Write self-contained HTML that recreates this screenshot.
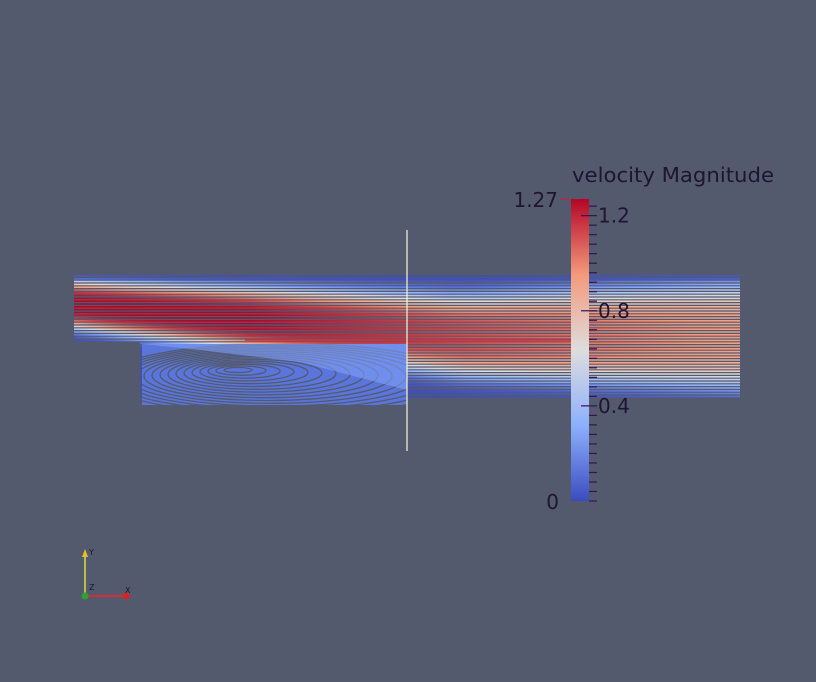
<!DOCTYPE html>
<html><head><meta charset="utf-8"><style>
html,body{margin:0;padding:0;background:#535a6e;}
svg{display:block;font-family:"DejaVu Sans","Liberation Sans",sans-serif;}
</style></head><body>
<svg id="chart" width="816" height="682" viewBox="0 0 816 682" xmlns="http://www.w3.org/2000/svg">
<rect x="0" y="0" width="816" height="682" fill="#535a6e"/>
<defs id="defs">
<linearGradient id="cbgrad" x1="0" y1="1" x2="0" y2="0">
<stop offset="0" stop-color="#3b4cc0"/><stop offset="0.25" stop-color="#8db0fe"/><stop offset="0.5" stop-color="#dddddd"/><stop offset="0.75" stop-color="#f49a7b"/><stop offset="1" stop-color="#b40426"/>
</linearGradient>
<clipPath id="eddyclip"><polygon points="142,344 407,344 407,405 142,405"/></clipPath>
</defs>
<g id="flow"></g>
<g id="eddy" clip-path="url(#eddyclip)"></g>
<line x1="245" y1="340" x2="571" y2="340" stroke="#ff2020" stroke-width="1.5"/>
<line x1="407" y1="230" x2="407" y2="451" stroke="#f6f6d8" stroke-width="1.2"/>
<g id="colorbar">
<text x="572" y="182" font-size="20" textLength="202" lengthAdjust="spacingAndGlyphs" fill="#1e1433">velocity Magnitude</text>
<rect x="571" y="199" width="18" height="302" fill="url(#cbgrad)"/>
<line x1="561" y1="199" x2="569" y2="199" stroke="#d01c2a" stroke-width="1.2"/>
<text x="558" y="207" font-size="20" text-anchor="end" fill="#1e1433">1.27</text>
<text x="559" y="509" font-size="20" text-anchor="end" fill="#1e1433">0</text>
<g id="ticks"></g>
</g>
<g>
<line x1="85" y1="596" x2="85" y2="556" stroke="#ffff40" stroke-width="1.2"/>
<polygon points="82,557 88,557 85,549" fill="#e8c020"/>
<line x1="85" y1="596" x2="127" y2="596" stroke="#ff2020" stroke-width="1.5"/>
<polygon points="124,592 124,600 132,596" fill="#e02020"/>
<circle cx="85" cy="596" r="3.5" fill="#30a030"/>
<text x="89" y="555" font-size="8" fill="#1e1433">Y</text>
<text x="125" y="593" font-size="8" fill="#1e1433">X</text>
<text x="89" y="590" font-size="8" fill="#1e1433">Z</text>
</g>
</svg>
<script>
const cbMin = 0;
const cbMax = 1.27;
const majorTicks = [0.4, 0.8, 1.2];
const tickStep = 0.04;
const NS = "http://www.w3.org/2000/svg";
const cbTop = 199, cbBot = 501;
function yScale(v){ return cbBot - (v - cbMin) / (cbMax - cbMin) * (cbBot - cbTop); }
function cmap(t){
  t = Math.max(0, Math.min(1, t));
  const s = [[0,[59,76,192]],[0.25,[141,176,254]],[0.5,[221,221,221]],[0.75,[244,154,123]],[1,[180,4,38]]];
  for (let i=0;i<s.length-1;i++){
    if (t<=s[i+1][0]){
      const f=(t-s[i][0])/(s[i+1][0]-s[i][0]);
      const c=s[i][1].map((a,k)=>Math.round(a+(s[i+1][1][k]-a)*f));
      return "rgb("+c.join(",")+")";
    }
  }
  return "rgb(180,4,38)";
}
const tg = document.getElementById("ticks");
for (let v = 0; v <= cbMax + 1e-9; v += tickStep){
  const y = yScale(v);
  const ln = document.createElementNS(NS,"line");
  
  
  const isMajor = majorTicks.some(m=>Math.abs(m-v)<1e-6);
  ln.setAttribute("x1", isMajor ? 581 : 589); ln.setAttribute("x2", 597);
  ln.setAttribute("y1", y); ln.setAttribute("y2", y);
  ln.setAttribute("stroke", "#3a0f5a"); ln.setAttribute("stroke-width", "1.2");
  tg.appendChild(ln);
}
majorTicks.forEach(m=>{
  const t = document.createElementNS(NS,"text");
  
  
  t.setAttribute("x", 598); t.setAttribute("y", yScale(m)+7);
  t.setAttribute("font-size", "20"); t.setAttribute("fill", "#1e1433");
  t.textContent = m.toFixed(1);
  tg.appendChild(t);
});
function vel(x,y){
  const yc = Math.min(305 + (x-74)*0.08, 336);
  const w = 24 + (x-74)*0.04;
  const vm = x<250 ? 1.27 : 1.27 - (x-250)/490*0.35;
  let v = vm*Math.exp(-Math.pow((y-yc)/w,4));
  if (y<280) v *= 0.35;
  return v;
}
const flow = document.getElementById("flow");
const defs = document.getElementById("defs");
let idx=0;
for (let y=276; y<=398; y+=2.8){
  const x0 = y>341 ? 140 : 74;
  const x1 = 740;
  const gid = "rg"+(idx++);
  const g = document.createElementNS(NS,"linearGradient");
  g.setAttribute("id",gid); g.setAttribute("gradientUnits","userSpaceOnUse");
  g.setAttribute("x1",x0); g.setAttribute("x2",x1); g.setAttribute("y1",0); g.setAttribute("y2",0);
  for (let x=x0; x<=x1; x+=25){
    let v = vel(x,y);
    const st = document.createElementNS(NS,"stop");
    st.setAttribute("offset", (x-x0)/(x1-x0));
    st.setAttribute("stop-color", cmap(v/cbMax));
    g.appendChild(st);
  }
  defs.appendChild(g);
  const ln = document.createElementNS(NS,"line");
  
  
  ln.setAttribute("x1",x0); ln.setAttribute("x2",x1);
  ln.setAttribute("y1",y); ln.setAttribute("y2",y);
  ln.setAttribute("stroke","url(#"+gid+")"); ln.setAttribute("stroke-width","1.6");
  flow.appendChild(ln);
}
const eddy = document.getElementById("eddy");
const bg = document.createElementNS(NS,"rect");


bg.setAttribute("x",142); bg.setAttribute("y",344); bg.setAttribute("width",265); bg.setAttribute("height",62);
bg.setAttribute("fill","#5a76dc");
eddy.appendChild(bg);
for (let k=0;k<16;k++){
  const e = document.createElementNS(NS,"ellipse");
  
  
  e.setAttribute("cx", 238 + k*3); e.setAttribute("cy", 370 + k*0.6);
  e.setAttribute("rx", 14 + k*11); e.setAttribute("ry", 2.5 + k*2.2);
  e.setAttribute("fill","none"); e.setAttribute("stroke", "#535a6e");
  e.setAttribute("stroke-width","1.3");
  eddy.appendChild(e);
}
const jet = document.createElementNS(NS,"polygon");


jet.setAttribute("points","142,344 407,344 407,390 300,362 200,350");
jet.setAttribute("fill","#7f9ff5"); jet.setAttribute("opacity","0.6");
eddy.appendChild(jet);
</script>
</body></html>
